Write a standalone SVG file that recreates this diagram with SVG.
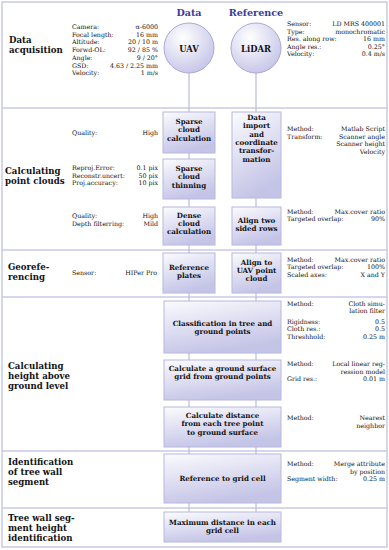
<svg xmlns="http://www.w3.org/2000/svg" width="389" height="550" viewBox="0 0 389 550">
<defs>
<linearGradient id="gb" x1="0" y1="0" x2="0.35" y2="1">
<stop offset="0" stop-color="#fbfbfe"/><stop offset="1" stop-color="#c4c4e7"/>
</linearGradient>
<radialGradient id="gc" cx="0.38" cy="0.3" r="0.8">
<stop offset="0" stop-color="#ffffff"/><stop offset="1" stop-color="#c0c0e6"/>
</radialGradient>
<style>
.sep{stroke:#c9c9e8;stroke-width:1.5;fill:none}
.con{stroke:#b9b9e0;stroke-width:1.2;fill:none}
.box{fill:url(#gb);stroke:#b8b8de;stroke-width:1}
.cir{fill:url(#gc);stroke:#a9a9d8;stroke-width:1}
.lab{font-family:"DejaVu Serif",serif;font-weight:bold;font-size:8.6px;fill:#111}
.hd{font-family:"DejaVu Serif",serif;font-weight:bold;font-size:9.6px;fill:#3b3b98;text-anchor:middle}
.bt{font-family:"DejaVu Serif",serif;font-weight:bold;font-size:7.1px;fill:#111;text-anchor:middle}
.ct{font-family:"DejaVu Serif",serif;font-weight:bold;font-size:8.4px;fill:#111;text-anchor:middle}
.p{font-family:"DejaVu Serif",serif;font-size:6.3px;fill:#111}
.pe{font-family:"DejaVu Serif",serif;font-size:6.3px;fill:#111;text-anchor:end}
</style>
</defs>
<rect x="0" y="0" width="389" height="550" fill="#ffffff"/>
<rect x="2" y="2" width="385" height="545" fill="#ffffff" class="sep"/>
<g id="separators">
<line class="sep" x1="2" y1="108" x2="387" y2="108"/>
<line class="sep" x1="2" y1="250" x2="387" y2="250"/>
<line class="sep" x1="2" y1="297" x2="387" y2="297"/>
<line class="sep" x1="2" y1="451" x2="387" y2="451"/>
<line class="sep" x1="2" y1="508" x2="387" y2="508"/>
</g>
<g id="connectors">
<line class="con" x1="189" y1="73" x2="189" y2="112"/>
<line class="con" x1="189" y1="153" x2="189" y2="159"/>
<line class="con" x1="189" y1="199" x2="189" y2="207"/>
<line class="con" x1="189" y1="245" x2="189" y2="253"/>
<line class="con" x1="189" y1="293" x2="189" y2="301"/>
<line class="con" x1="189" y1="353" x2="189" y2="360"/>
<line class="con" x1="189" y1="400" x2="189" y2="407"/>
<line class="con" x1="189" y1="447" x2="189" y2="454"/>
<line class="con" x1="189" y1="503" x2="189" y2="512"/>
<line class="con" x1="256" y1="73" x2="256" y2="112"/>
<line class="con" x1="256" y1="198" x2="256" y2="207"/>
<line class="con" x1="256" y1="245" x2="256" y2="253"/>
<line class="con" x1="256" y1="293" x2="256" y2="301"/>
<line class="con" x1="256" y1="353" x2="256" y2="360"/>
<line class="con" x1="256" y1="400" x2="256" y2="407"/>
<line class="con" x1="256" y1="447" x2="256" y2="454"/>
<line class="con" x1="256" y1="503" x2="256" y2="512"/>
</g>
<g id="headers">
<text class="hd" x="189" y="16">Data</text>
<text class="hd" x="256" y="16">Reference</text>
</g>
<g id="sec-labels">
<text class="lab" x="9" y="43">Data</text>
<text class="lab" x="9" y="53.2">acquisition</text>
<text class="lab" x="5" y="173.5">Calculating</text>
<text class="lab" x="5" y="183.7">point clouds</text>
<text class="lab" x="8" y="270">Georefe-</text>
<text class="lab" x="8" y="280.2">rencing</text>
<text class="lab" x="8" y="368.5">Calculating</text>
<text class="lab" x="8" y="378.7">height above</text>
<text class="lab" x="8" y="388.9">ground level</text>
<text class="lab" x="8" y="465">Identification</text>
<text class="lab" x="8" y="475.2">of tree wall</text>
<text class="lab" x="8" y="485.4">segment</text>
<text class="lab" x="8" y="521">Tree wall seg-</text>
<text class="lab" x="8" y="531.2">ment height</text>
<text class="lab" x="8" y="541.4">identification</text>
</g>
<g id="params">
<text class="p" x="72" y="29">Camera:</text><text class="pe" x="158" y="29">α-6000</text>
<text class="p" x="72" y="36.7">Focal length:</text><text class="pe" x="158" y="36.7">16 mm</text>
<text class="p" x="72" y="44.4">Altitude:</text><text class="pe" x="158" y="44.4">20 / 10 m</text>
<text class="p" x="72" y="52.1">Forwd-OL:</text><text class="pe" x="158" y="52.1">92 / 85 %</text>
<text class="p" x="72" y="59.8">Angle:</text><text class="pe" x="158" y="59.8">9 / 20°</text>
<text class="p" x="72" y="67.5">GSD:</text><text class="pe" x="158" y="67.5">4.63 / 2.25 mm</text>
<text class="p" x="72" y="75.2">Velocity:</text><text class="pe" x="158" y="75.2">1 m/s</text>
<text class="p" x="287" y="26">Sensor:</text><text class="pe" x="385" y="26">LD MRS 400001</text>
<text class="p" x="287" y="33.5">Type:</text><text class="pe" x="385" y="33.5">monochromatic</text>
<text class="p" x="287" y="41">Res. along row:</text><text class="pe" x="385" y="41">16 mm</text>
<text class="p" x="287" y="48.5">Angle res.:</text><text class="pe" x="385" y="48.5">0.25°</text>
<text class="p" x="287" y="56">Velocity:</text><text class="pe" x="385" y="56">0.4 m/s</text>
<text class="p" x="72" y="135">Quality:</text><text class="pe" x="158" y="135">High</text>
<text class="p" x="72" y="170">Reproj.Error:</text><text class="pe" x="158" y="170">0.1 pix</text>
<text class="p" x="72" y="177.5">Reconstr.uncert:</text><text class="pe" x="158" y="177.5">50 pix</text>
<text class="p" x="72" y="185">Proj.accuracy:</text><text class="pe" x="158" y="185">10 pix</text>
<text class="p" x="72" y="218">Quality:</text><text class="pe" x="158" y="218">High</text>
<text class="p" x="72" y="225.5">Depth filterring:</text><text class="pe" x="158" y="225.5">Mild</text>
<text class="p" x="287" y="131">Method:</text><text class="pe" x="385" y="131">Matlab Script</text>
<text class="p" x="287" y="138.5">Transform:</text><text class="pe" x="385" y="138.5">Scanner angle</text>
<text class="pe" x="385" y="146">Scanner height</text>
<text class="pe" x="385" y="153.5">Velocity</text>
<text class="p" x="287" y="213.5">Method:</text><text class="pe" x="385" y="213.5">Max.cover ratio</text>
<text class="p" x="287" y="221">Targeted overlap:</text><text class="pe" x="385" y="221">90%</text>
<text class="p" x="72" y="275">Sensor:</text><text class="pe" x="157" y="275">HIPer Pro</text>
<text class="p" x="287" y="261.5">Method:</text><text class="pe" x="385" y="261.5">Max.cover ratio</text>
<text class="p" x="287" y="269">Targeted overlap:</text><text class="pe" x="385" y="269">100%</text>
<text class="p" x="287" y="276.5">Scaled axes:</text><text class="pe" x="385" y="276.5">X and Y</text>
<text class="p" x="287" y="305.5">Method:</text><text class="pe" x="385" y="305.5">Cloth simu-</text>
<text class="pe" x="385" y="313">lation filter</text>
<text class="p" x="287" y="323.5">Rigidness:</text><text class="pe" x="385" y="323.5">0.5</text>
<text class="p" x="287" y="331">Cloth res.:</text><text class="pe" x="385" y="331">0.5</text>
<text class="p" x="287" y="338.5">Threshhold:</text><text class="pe" x="385" y="338.5">0.25 m</text>
<text class="p" x="287" y="366">Method:</text><text class="pe" x="385" y="366">Local linear reg-</text>
<text class="pe" x="385" y="373.5">ression model</text>
<text class="p" x="287" y="381">Grid res.:</text><text class="pe" x="385" y="381">0.01 m</text>
<text class="p" x="287" y="420">Method:</text><text class="pe" x="385" y="420">Nearest</text>
<text class="pe" x="385" y="427.5">neighbor</text>
<text class="p" x="287" y="466">Method:</text><text class="pe" x="385" y="466">Merge attribute</text>
<text class="pe" x="385" y="473.5">by position</text>
<text class="p" x="287" y="481">Segment width:</text><text class="pe" x="385" y="481">0.25 m</text>
</g>
<g id="uav">
<circle class="cir" cx="189" cy="48" r="25"/>
<text class="ct" x="189" y="51.5">UAV</text>
</g>
<g id="lidar">
<circle class="cir" cx="256" cy="48" r="25"/>
<text class="ct" x="256" y="51.5">LiDAR</text>
</g>
<g id="sparse-calc">
<rect class="box" x="163" y="112" width="52" height="41"/>
<text class="bt" x="189" y="124">Sparse</text>
<text class="bt" x="189" y="132.3">cloud</text>
<text class="bt" x="189" y="140.6">calculation</text>
</g>
<g id="sparse-thin">
<rect class="box" x="163" y="159" width="52" height="40"/>
<text class="bt" x="189" y="171">Sparse</text>
<text class="bt" x="189" y="179.3">cloud</text>
<text class="bt" x="189" y="187.6">thinning</text>
</g>
<g id="dense-calc">
<rect class="box" x="163" y="207" width="52" height="38"/>
<text class="bt" x="189" y="217.5">Dense</text>
<text class="bt" x="189" y="225.8">cloud</text>
<text class="bt" x="189" y="234.1">calculation</text>
</g>
<g id="data-import">
<rect class="box" x="232" y="112" width="49" height="86"/>
<text class="bt" x="256.5" y="120">Data</text>
<text class="bt" x="256.5" y="128.3">import</text>
<text class="bt" x="256.5" y="136.6">and</text>
<text class="bt" x="256.5" y="144.9">coordinate</text>
<text class="bt" x="256.5" y="153.2">transfor-</text>
<text class="bt" x="256.5" y="161.5">mation</text>
</g>
<g id="align-rows">
<rect class="box" x="232" y="207" width="49" height="38"/>
<text class="bt" x="256.5" y="223">Align two</text>
<text class="bt" x="256.5" y="231.3">sided rows</text>
</g>
<g id="ref-plates">
<rect class="box" x="163" y="253" width="52" height="40"/>
<text class="bt" x="189" y="269.5">Reference</text>
<text class="bt" x="189" y="277.8">plates</text>
</g>
<g id="align-uav">
<rect class="box" x="232" y="253" width="49" height="40"/>
<text class="bt" x="256.5" y="264.5">Align to</text>
<text class="bt" x="256.5" y="272.8">UAV point</text>
<text class="bt" x="256.5" y="281.1">cloud</text>
</g>
<g id="classification">
<rect class="box" x="164" y="301" width="117" height="52"/>
<text class="bt" x="222.5" y="325.5">Classification in tree and</text>
<text class="bt" x="222.5" y="333.8">ground points</text>
</g>
<g id="ground-grid">
<rect class="box" x="164" y="360" width="117" height="40"/>
<text class="bt" x="222.5" y="371">Calculate a ground surface</text>
<text class="bt" x="222.5" y="379.3">grid from ground points</text>
</g>
<g id="distance">
<rect class="box" x="164" y="407" width="117" height="40"/>
<text class="bt" x="222.5" y="418">Calculate distance</text>
<text class="bt" x="222.5" y="426.3">from each tree point</text>
<text class="bt" x="222.5" y="434.6">to ground surface</text>
</g>
<g id="ref-grid">
<rect class="box" x="164" y="454" width="117" height="49"/>
<text class="bt" x="222.5" y="481">Reference to grid cell</text>
</g>
<g id="max-dist">
<rect class="box" x="164" y="512" width="117" height="30"/>
<text class="bt" x="222.5" y="524.5">Maximum distance in each</text>
<text class="bt" x="222.5" y="532.8">grid cell</text>
</g>
</svg>
